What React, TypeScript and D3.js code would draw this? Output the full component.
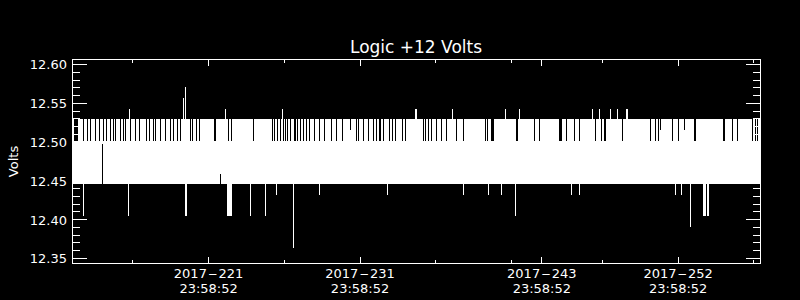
import React from 'react';
import * as d3 from 'd3';

const W = 800;
const H = 300;

// Time axis: fractional day-of-year 2017
const xDomain = [212.981, 258.402];
const yDomain = [12.34356, 12.60644];

const majorTickDays = [221.999, 231.999, 243.999, 252.999];
const majorTickDates = ['2017', '2017', '2017', '2017'];
const majorTickDoy = ['221', '231', '243', '252'];
const majorTickTimes = ['23:58:52', '23:58:52', '23:58:52', '23:58:52'];
const minorTickDays = [216.999, 226.999, 236.999, 241.999, 247.999, 257.999];

const yMajorTicks = [12.35, 12.4, 12.45, 12.5, 12.55, 12.6];
const yMinorTicks = d3.range(1235, 1261).map((v) => v / 100);

// Signal levels (Volts)
const bandLow = 12.446;
const bandMid = 12.5014;
const bandHigh = 12.5302;
const partialGapLevel = 12.5156;

// Times where the signal did not reach the upper level
const upperGapTimes = [
  213.773, 214.037, 214.202, 214.5, 214.764, 215.028, 215.226, 215.49, 215.688, 215.82,
  216.15, 216.348, 216.546, 216.876, 217.206, 217.47, 217.867, 218.098, 218.329, 218.494,
  218.791, 219.121, 219.451, 219.649, 219.913, 220.144, 220.804, 220.969, 221.168, 221.399,
  224.931, 226.205, 226.37, 226.548, 226.713, 226.911, 227.076, 227.228, 227.406, 227.869,
  228.034, 228.232, 228.43, 228.661, 228.991, 229.321, 229.651, 230.08, 230.476, 230.872,
  231.764, 231.896, 232.193, 232.543, 232.853, 233.051, 233.546, 233.975, 234.14, 234.306,
  234.787, 235.012, 236.174, 236.319, 236.484, 236.682, 237.012, 237.342, 237.673, 238.366,
  240.247, 240.412, 243.496, 243.852, 245.595, 246.156, 246.486, 247.543, 247.952, 249.345,
  251.193, 251.524, 251.682, 252.613, 253.042, 256.574, 256.904, 257.875, 258.073, 258.225,
];
const upperGapSpans = [
  [213.113, 213.377], [222.343, 222.475], [223.25, 223.35], [223.46, 223.56],
  [227.624, 227.756], [233.249, 233.407], [238.775, 238.881], [240.647, 240.865],
  [242.304, 242.416], [245.155, 245.321], [248.101, 248.213], [254.059, 254.191],
  [255.977, 256.089],
];
const partialGapTimes = [231.368, 251.801, 253.398];

// Columns where the signal minimum stayed above the band bottom
const bandNotches = [
  [214.981, 12.4978],
  [222.772, 12.4589],
];

const upSpikes = [
  [216.777, 12.5427], [220.329, 12.5565], [220.507, 12.5706], [223.128, 12.5427],
  [226.858, 12.5427], [235.639, 12.5427], [235.705, 12.5427], [238.088, 12.5427],
  [241.587, 12.5427], [242.505, 12.5427], [247.344, 12.5427], [247.787, 12.5427],
  [248.5, 12.5427], [248.982, 12.5427], [249.576, 12.5427], [249.642, 12.5427],
];

const downSpikes = [
  [213.727, 12.4052], [216.724, 12.4052], [220.461, 12.4052], [220.527, 12.4052],
  [224.752, 12.4052], [225.743, 12.4052], [226.495, 12.4322], [227.591, 12.3639],
  [229.308, 12.4322], [233.797, 12.4322], [238.815, 12.4322], [240.465, 12.4322],
  [241.323, 12.4322], [242.248, 12.4052], [245.971, 12.4322], [246.473, 12.4322],
  [252.837, 12.4322], [253.207, 12.4322], [253.801, 12.391],
];
const downSpans = [
  [223.234, 223.524, 12.4052],
  [254.659, 254.831, 12.4052],
  [254.884, 255.016, 12.4052],
];

export default function App() {
  const x = d3.scaleLinear().domain(xDomain).range([72, 760]);
  const y = d3.scaleLinear().domain(yDomain).range([263.5, 59.5]);
  const font = "'DejaVu Sans', Verdana, sans-serif";
  const px = (t: number) => Math.floor(x(t)) + 0.5;
  const py = (v: number) => Math.floor(y(v)) + 0.5;
  const x0 = x(xDomain[0]);
  const x1 = x(xDomain[1]);
  const yTop = y(yDomain[1]);
  const yBot = y(yDomain[0]);
  const frameL = Math.floor(x0) + 0.5;
  const frameR = Math.floor(x1) + 0.5;

  return (
    <svg
      width={W}
      height={H}
      style={{ position: 'absolute', left: 0, top: 0, background: '#000' }}
    >
      <rect x={0} y={0} width={W} height={H} fill="#000" />
      <g shapeRendering="crispEdges">
        {/* upper level band */}
        <rect x={x0} y={y(bandHigh)} width={x1 - x0} height={y(bandMid) - y(bandHigh)} fill="#fff" />
        {upperGapTimes.map((t, i) => (
          <rect key={'g' + i} x={x(t) - 0.5} y={y(bandHigh)} width={1} height={y(bandMid) - y(bandHigh)} fill="#000" />
        ))}
        {upperGapSpans.map(([a, b], i) => (
          <rect key={'gs' + i} x={x(a)} y={y(bandHigh)} width={x(b) - x(a)} height={y(bandMid) - y(bandHigh)} fill="#000" />
        ))}
        {partialGapTimes.map((t, i) => (
          <rect key={'pg' + i} x={x(t) - 0.5} y={y(bandHigh)} width={1} height={y(partialGapLevel) - y(bandHigh)} fill="#000" />
        ))}
        {/* main dense band */}
        <rect x={x0} y={y(bandMid)} width={x1 - x0} height={y(bandLow) - y(bandMid)} fill="#fff" />
        {bandNotches.map(([t, v], i) => (
          <rect key={'n' + i} x={x(t) - 0.5} y={y(v)} width={1} height={y(bandLow) - y(v)} fill="#000" />
        ))}
        {upSpikes.map(([t, v], i) => (
          <rect key={'u' + i} x={x(t) - 0.5} y={y(v)} width={1} height={y(bandMid) - y(v)} fill="#fff" />
        ))}
        {downSpikes.map(([t, v], i) => (
          <rect key={'d' + i} x={x(t) - 0.5} y={y(bandLow)} width={1} height={y(v) - y(bandLow)} fill="#fff" />
        ))}
        {downSpans.map(([a, b, v], i) => (
          <rect key={'ds' + i} x={x(a)} y={y(bandLow)} width={x(b) - x(a)} height={y(v) - y(bandLow)} fill="#fff" />
        ))}
      </g>
      <g stroke="#fff" strokeWidth={1} shapeRendering="crispEdges" fill="none">
        <rect x={frameL} y={Math.floor(yTop) + 0.5} width={frameR - frameL} height={Math.floor(yBot) - Math.floor(yTop)} />
        {yMajorTicks.map((v) => (
          <g key={'ym' + v}>
            <line x1={frameL} x2={frameL + 14.5} y1={py(v)} y2={py(v)} />
            <line x1={frameR} x2={frameR - 14.5} y1={py(v)} y2={py(v)} />
          </g>
        ))}
        {yMinorTicks.map((v) => (
          <g key={'yn' + v}>
            <line x1={frameL} x2={frameL + 7.5} y1={py(v)} y2={py(v)} />
            <line x1={frameR} x2={frameR - 7.5} y1={py(v)} y2={py(v)} />
          </g>
        ))}
        {majorTickDays.map((t) => (
          <g key={'xm' + t}>
            <line x1={px(t)} x2={px(t)} y1={Math.floor(yTop) + 0.5} y2={Math.floor(yTop) + 6.5} />
            <line x1={px(t)} x2={px(t)} y1={Math.floor(yBot) + 0.5} y2={Math.floor(yBot) - 6.5} />
          </g>
        ))}
        {minorTickDays.map((t) => (
          <g key={'xn' + t}>
            <line x1={px(t)} x2={px(t)} y1={Math.floor(yTop) + 0.5} y2={Math.floor(yTop) + 3.5} />
            <line x1={px(t)} x2={px(t)} y1={Math.floor(yBot) + 0.5} y2={Math.floor(yBot) - 3.5} />
          </g>
        ))}
      </g>
      <g fill="#fff" fontFamily={font}>
        <text x={(x0 + x1) / 2} y={53.3} fontSize={17} textAnchor="middle">
          Logic +12 Volts
        </text>
        {yMajorTicks.map((v) => (
          <text key={'yl' + v} x={67} y={y(v) + 4.8} fontSize={13} textAnchor="end">
            {d3.format('.2f')(v)}
          </text>
        ))}
        {majorTickDays.map((t, i) => (
          <g key={'xl' + t}>
            <text x={x(t)} y={278.3} fontSize={13} textAnchor="middle">
              {majorTickDates[i]}
              <tspan dx={0.8} textLength={10} lengthAdjust="spacingAndGlyphs">-</tspan>
              <tspan dx={0.8}>{majorTickDoy[i]}</tspan>
            </text>
            <text x={x(t)} y={292.7} fontSize={13} textAnchor="middle">
              {majorTickTimes[i]}
            </text>
          </g>
        ))}
        <text
          transform={`translate(18.3, ${(yTop + yBot) / 2}) rotate(-90)`}
          fontSize={13}
          textAnchor="middle"
        >
          Volts
        </text>
      </g>
    </svg>
  );
}
